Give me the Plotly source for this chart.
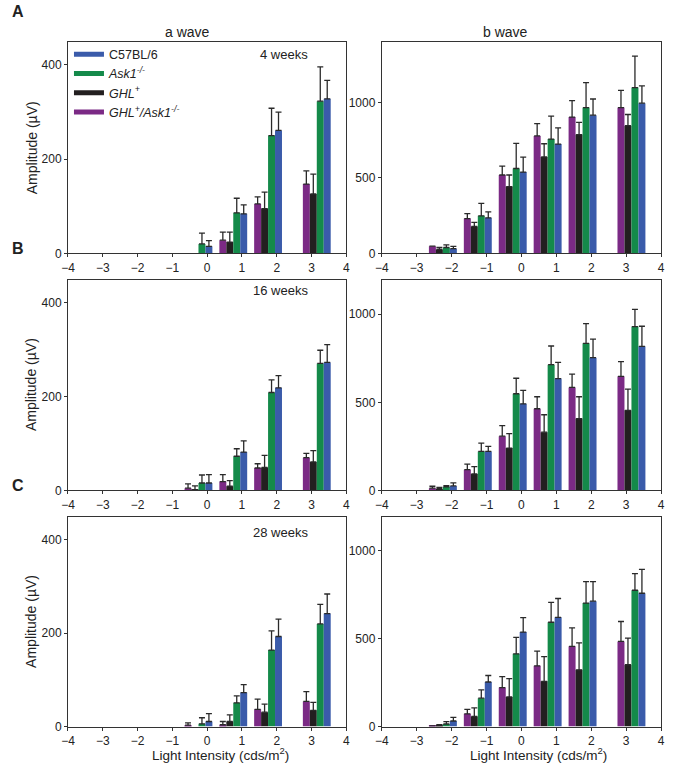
import plotly.graph_objects as go
from plotly.subplots import make_subplots

# light intensity group centres (log cds/m2)
intensity = [-2.25, -1.25, -0.25, 0.75, 1.75, 3.15]

series_names = ["GHL+/Ask1-/-", "GHL+", "Ask1-/-", "C57BL/6"]
colors = ["#7B2A85", "#231F20", "#148A4A", "#3A5BAA"]

# a wave -- mean values and top of error bars (None = no bar)
a4_mean = {
    "GHL+/Ask1-/-": [None, None, None, 28, 105, 147],
    "GHL+":         [None, None, None, 24, 95, 126],
    "Ask1-/-":      [None, None, 20, 86, 250, 323],
    "C57BL/6":      [None, None, 15, 84, 261, 328],
}
a4_top = {
    "GHL+/Ask1-/-": [None, None, None, 45, 120, 175],
    "GHL+":         [None, None, None, 45, 130, 168],
    "Ask1-/-":      [None, None, 43, 117, 308, 396],
    "C57BL/6":      [None, None, 27, 103, 300, 367],
}
a16_mean = {
    "GHL+/Ask1-/-": [None, None, 5, 19, 48, 70],
    "GHL+":         [None, None, 2, 9, 49, 61],
    "Ask1-/-":      [None, None, 16, 73, 209, 271],
    "C57BL/6":      [None, None, 16, 82, 219, 273],
}
a16_top = {
    "GHL+/Ask1-/-": [None, None, 14, 34, 57, 79],
    "GHL+":         [None, None, 10, 21, 75, 85],
    "Ask1-/-":      [None, None, 33, 89, 236, 299],
    "C57BL/6":      [None, None, 34, 106, 245, 311],
}
a28_mean = {
    "GHL+/Ask1-/-": [None, None, 3, 4, 37, 54],
    "GHL+":         [None, None, None, 11, 31, 35],
    "Ask1-/-":      [None, None, 6, 51, 164, 220],
    "C57BL/6":      [None, None, 11, 73, 193, 242],
}
a28_top = {
    "GHL+/Ask1-/-": [None, None, 8, 11, 59, 75],
    "GHL+":         [None, None, None, 25, 48, 52],
    "Ask1-/-":      [None, None, 19, 66, 205, 262],
    "C57BL/6":      [None, None, 28, 90, 230, 284],
}

# b wave
b4_mean = {
    "GHL+/Ask1-/-": [48, 231, 520, 779, 904, 967],
    "GHL+":         [26, 179, 443, 640, 788, 847],
    "Ask1-/-":      [39, 249, 563, 758, 967, 1100],
    "C57BL/6":      [31, 236, 539, 725, 917, 996],
}
b4_top = {
    "GHL+/Ask1-/-": [48, 264, 579, 860, 1013, 1081],
    "GHL+":         [39, 205, 520, 727, 869, 921],
    "Ask1-/-":      [57, 332, 729, 910, 1133, 1308],
    "C57BL/6":      [46, 275, 638, 832, 1024, 1111],
}
b16_mean = {
    "GHL+/Ask1-/-": [13, 118, 308, 464, 585, 648],
    "GHL+":         [9, 94, 241, 331, 408, 455],
    "Ask1-/-":      [21, 222, 549, 714, 835, 930],
    "C57BL/6":      [26, 222, 492, 635, 754, 818],
}
b16_top = {
    "GHL+/Ask1-/-": [24, 150, 368, 532, 660, 731],
    "GHL+":         [17, 135, 323, 430, 532, 575],
    "Ask1-/-":      [28, 269, 637, 820, 947, 1028],
    "C57BL/6":      [43, 250, 568, 727, 859, 932],
}
b28_mean = {
    "GHL+/Ask1-/-": [4, 73, 222, 346, 457, 485],
    "GHL+":         [11, 58, 169, 258, 323, 352],
    "Ask1-/-":      [15, 162, 414, 594, 703, 776],
    "C57BL/6":      [32, 254, 538, 622, 714, 759],
}
b28_top = {
    "GHL+/Ask1-/-": [4, 98, 284, 430, 562, 598],
    "GHL+":         [11, 107, 273, 398, 477, 504],
    "Ask1-/-":      [28, 209, 508, 707, 825, 870],
    "C57BL/6":      [53, 291, 620, 729, 825, 895],
}

legend_labels = {
    "C57BL/6": "C57BL/6",
    "Ask1-/-": "<i>Ask1<sup>-/-</sup></i>",
    "GHL+": "<i>GHL<sup>+</sup></i>",
    "GHL+/Ask1-/-": "<i>GHL<sup>+</sup>/Ask1<sup>-/-</sup></i>",
}

W, H = 673, 769
FONT = "Liberation Sans, Arial, sans-serif"

fig = make_subplots(rows=3, cols=2)

panels = [
    (1, 1, a4_mean, a4_top), (1, 2, b4_mean, b4_top),
    (2, 1, a16_mean, a16_top), (2, 2, b16_mean, b16_top),
    (3, 1, a28_mean, a28_top), (3, 2, b28_mean, b28_top),
]

for r, c, means, tops in panels:
    for name, col in zip(series_names, colors):
        m = means[name]
        t = tops[name]
        err = [None if v is None else tt - v for v, tt in zip(m, t)]
        fig.add_trace(go.Bar(
            x=intensity, y=m, name=name,
            marker=dict(color=col, line=dict(width=0)),
            error_y=dict(type="data", symmetric=False, array=err,
                         arrayminus=[0] * len(err),
                         color="#2a2a2a", thickness=1.3, width=3),
            showlegend=False,
        ), row=r, col=c)

# legend entries as thick line swatches
for name in ["C57BL/6", "Ask1-/-", "GHL+", "GHL+/Ask1-/-"]:
    col = colors[series_names.index(name)]
    fig.add_trace(go.Scatter(
        x=[None], y=[None], mode="lines", name=legend_labels[name],
        line=dict(color=col, width=5), showlegend=True,
    ), row=1, col=1)

def px_x(p):
    return p / W

def px_y(p):
    return 1 - p / H

col_dom = {1: [px_x(62), px_x(345)], 2: [px_x(381), px_x(665)]}
row_dom = {1: [px_y(255.7), px_y(42.7)],
           2: [px_y(495), px_y(282.5)],
           3: [px_y(733.3), px_y(521.7)]}
y_ranges = {(1, 1): [0, 448], (1, 2): [0, 1400],
            (2, 1): [0, 449], (2, 2): [0, 1195],
            (3, 1): [0, 449], (3, 2): [0, 1193]}
y_ticks = {1: [0, 200, 400], 2: [0, 500, 1000]}

for r in (1, 2, 3):
    for c in (1, 2):
        fig.update_xaxes(
            domain=col_dom[c], range=[-4, 4], tickvals=list(range(-4, 5)),
            ticks="outside", ticklen=3, tickwidth=1, tickcolor="#333",
            showline=True, linecolor="#333", linewidth=1, mirror=True,
            showgrid=False, zeroline=False, ticklabeloverflow="allow",
            tickfont=dict(size=12, color="#222", family=FONT),
            row=r, col=c)
        fig.update_yaxes(
            domain=row_dom[r], range=y_ranges[(r, c)], tickvals=y_ticks[c],
            ticks="outside", ticklen=3, tickwidth=1, tickcolor="#333",
            showline=True, linecolor="#333", linewidth=1, mirror=True,
            showgrid=False, zeroline=False,
            tickfont=dict(size=12, color="#222", family=FONT),
            row=r, col=c)

ann = []
def text(x, y, s, size=12, bold=False, angle=0):
    ann.append(dict(x=px_x(x), y=px_y(y), xref="paper", yref="paper",
                    text=f"<b>{s}</b>" if bold else s, showarrow=False,
                    textangle=angle, xanchor="center", yanchor="middle",
                    font=dict(size=size, color="#222", family=FONT)))

text(11, 12, "A", 16, bold=True)
text(11, 251, "B", 16, bold=True)
text(11, 490, "C", 16, bold=True)
text(184, 32, "a wave", 14)
text(507, 32, "b wave", 14)
text(282, 55, "4 weeks", 13)
text(278, 293, "16 weeks", 13)
text(278, 537, "28 weeks", 13)
for yc in (149, 388, 627):
    text(25, yc, "Amplitude (µV)", 14, angle=-90)
text(217, 761, "Light Intensity (cds/m<sup>2</sup>)", 13.5)
text(540, 761, "Light Intensity (cds/m<sup>2</sup>)", 13.5)

fig.update_layout(
    width=W, height=H,
    margin=dict(l=0, r=0, t=0, b=0),
    plot_bgcolor="white", paper_bgcolor="white",
    barmode="group", bargap=0.2, bargroupgap=0,
    font=dict(family=FONT, color="#222"),
    annotations=ann,
    legend=dict(x=px_x(63), y=px_y(40), xanchor="left", yanchor="top",
                bgcolor="rgba(0,0,0,0)", itemwidth=30, tracegroupgap=0,
                font=dict(size=12.5, color="#222", family=FONT)),
)

fig.write_html(
    "out.html",
    config={"displayModeBar": False},
    post_script="document.body.style.margin='0';"
                "document.body.style.overflow='hidden';",
)
